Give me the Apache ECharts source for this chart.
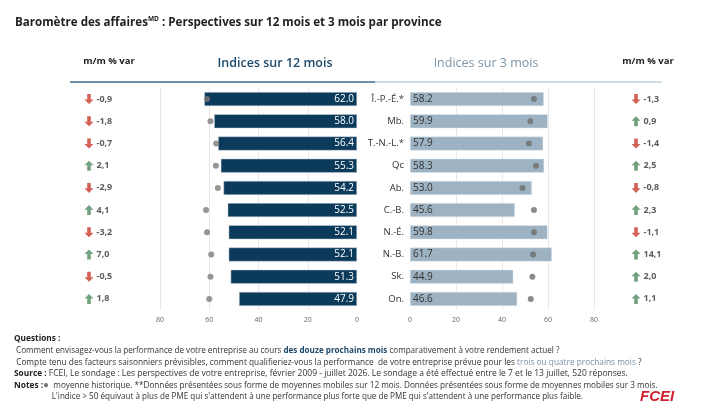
<!DOCTYPE html>
<html>
<head>
<meta charset="utf-8">
<script src="https://cdn.jsdelivr.net/npm/echarts@6/dist/echarts.min.js"></script>
<style>
  html, body { margin: 0; padding: 0; background: #fff; }
  #chart { width: 715px; height: 407px; }
</style>
</head>
<body>
<div id="chart"></div>
<script>
// provinces, top to bottom
const provinces = ['Î.-P.-É.*', 'Mb.', 'T.-N.-L.*', 'Qc', 'Ab.', 'C.-B.', 'N.-É.', 'N.-B.', 'Sk.', 'On.'];
// indices 12 mois + moyenne historique
const index12 = [62.0, 58.0, 56.4, 55.3, 54.2, 52.5, 52.1, 52.1, 51.3, 47.9];
const hist12 = [60.9, 59.5, 57.2, 57.3, 56.5, 61.3, 60.9, 59.2, 59.5, 60.0];
// indices 3 mois + moyenne historique
const index3 = [58.2, 59.9, 57.9, 58.3, 53.0, 45.6, 59.8, 61.7, 44.9, 46.6];
const hist3 = [53.9, 52.3, 51.7, 54.8, 48.9, 53.9, 53.9, 53.5, 53.2, 52.5];
// m/m % var
const var12 = [-0.9, -1.8, -0.7, 2.1, -2.9, 4.1, -3.2, 7.0, -0.5, 1.8];
const var3 = [-1.3, 0.9, -1.4, 2.5, -0.8, 2.3, -1.1, 14.1, 2.0, 1.1];

const FONT = '"Open Sans", "Noto Sans", sans-serif';
const NAVY = '#0b3a5b';
const STEEL = '#9db2c2';
const RED = '#c83a2c';
const GREEN = '#4d8a5e';
const arrowDown = 'path://M3,0 L7,0 L7,6 L10,6 L5,11 L0,6 L3,6 Z';
const arrowUp = 'path://M5,0 L10,5 L7,5 L7,11 L3,11 L3,5 L0,5 Z';

function fmtVar(v) {
  return v.toFixed(1).replace('.', ',');
}

function varData(list) {
  return list.map(function (v, i) {
    return {
      value: [0, i],
      symbol: v < 0 ? arrowDown : arrowUp,
      itemStyle: { color: v < 0 ? RED : GREEN },
      label: { formatter: fmtVar(v) }
    };
  });
}

// petit style de texte pour les notes
function ts(size, color, bold) {
  return { fontFamily: FONT, fontSize: size, fontWeight: bold ? 'bold' : 'normal', fill: color, lineHeight: 11.6 };
}

const chart = echarts.init(document.getElementById('chart'));

const gridTop = 88, gridH = 222;

const catAxis = function (idx, show) {
  return {
    type: 'category', gridIndex: idx, data: provinces, inverse: true,
    axisLine: { show: false }, axisTick: { show: false },
    axisLabel: {
      show: show, color: '#333', fontFamily: FONT, fontSize: 9.5,
      margin: 6, align: 'right'
    }
  };
};

const valAxis = function (idx, inverse) {
  return {
    type: 'value', gridIndex: idx, min: 0, max: 80, interval: 20, inverse: inverse,
    axisLine: { show: false }, axisTick: { show: false },
    axisLabel: { color: '#666', fontFamily: FONT, fontSize: 7, margin: 6 },
    splitLine: {
      lineStyle: { color: '#e8e8e8', width: 1 },
      showMinLine: false
    }
  };
};

const hiddenAxis = function (idx) {
  return { type: 'value', gridIndex: idx, min: 0, max: 1, show: false };
};

const option = {
  backgroundColor: '#fff',
  animation: false,
  textStyle: { fontFamily: FONT },
  title: {
    left: 10, top: 11,
    text: '{a|Baromètre des affaires}{s|MD}{a| : Perspectives sur 12 mois et 3 mois par province}',
    textStyle: {
      rich: {
        a: { fontFamily: FONT, fontSize: 11.6, fontWeight: 'bold', color: '#222' },
        s: { fontFamily: FONT, fontSize: 6.5, fontWeight: 'bold', color: '#222', padding: [0, 0, 6, 0] }
      }
    }
  },
  grid: [
    { left: 89, width: 50, top: gridTop, height: gridH },
    { left: 160, width: 197, top: gridTop, height: gridH },
    { left: 410, width: 184, top: gridTop, height: gridH },
    { left: 636, width: 50, top: gridTop, height: gridH }
  ],
  xAxis: [hiddenAxis(0), valAxis(1, true), valAxis(2, false), hiddenAxis(3)],
  yAxis: [catAxis(0, false), catAxis(1, false), catAxis(2, true), catAxis(3, false)],
  series: [
    {
      type: 'scatter', xAxisIndex: 0, yAxisIndex: 0,
      data: varData(var12), symbolSize: [9, 10],
      label: { show: true, position: 'right', distance: 3, color: '#333', fontFamily: FONT, fontSize: 9, fontWeight: 'bold' }
    },
    {
      type: 'bar', xAxisIndex: 1, yAxisIndex: 1, data: index12, barWidth: 14,
      itemStyle: { color: NAVY, borderColor: '#c9d3dc', borderWidth: 0.5 },
      label: {
        show: true, position: 'insideRight', distance: 3, color: '#fff',
        fontFamily: FONT, fontSize: 10,
        formatter: function (p) { return p.value.toFixed(1); }
      }
    },
    {
      type: 'scatter', xAxisIndex: 1, yAxisIndex: 1, data: hist12, symbolSize: 6,
      itemStyle: { color: '#7a7a7a' }, z: 5
    },
    {
      type: 'bar', xAxisIndex: 2, yAxisIndex: 2, data: index3, barWidth: 14,
      itemStyle: { color: STEEL, borderColor: '#e3e9ee', borderWidth: 0.5 },
      label: {
        show: true, position: 'insideLeft', distance: 3, color: '#333',
        fontFamily: FONT, fontSize: 10,
        formatter: function (p) { return p.value.toFixed(1); }
      }
    },
    {
      type: 'scatter', xAxisIndex: 2, yAxisIndex: 2, data: hist3, symbolSize: 6,
      itemStyle: { color: '#6e6e6e' }, z: 5
    },
    {
      type: 'scatter', xAxisIndex: 3, yAxisIndex: 3,
      data: varData(var3), symbolSize: [9, 10],
      label: { show: true, position: 'right', distance: 3, color: '#333', fontFamily: FONT, fontSize: 9, fontWeight: 'bold' }
    }
  ],
  graphic: [
    // en-têtes de colonnes
    { type: 'text', x: 109, y: 61, style: { text: 'm/m % var', font: 'bold 9.5px ' + FONT, fill: '#222', align: 'center', verticalAlign: 'middle' } },
    { type: 'text', x: 648, y: 61, style: { text: 'm/m % var', font: 'bold 9.5px ' + FONT, fill: '#222', align: 'center', verticalAlign: 'middle' } },
    { type: 'text', x: 275, y: 63, style: { text: 'Indices sur 12 mois', font: '600 12.5px ' + FONT, fill: '#1d4a6b', align: 'center', verticalAlign: 'middle' } },
    { type: 'text', x: 486, y: 63, style: { text: 'Indices sur 3 mois', font: '12.5px ' + FONT, fill: '#7d95a7', align: 'center', verticalAlign: 'middle' } },
    { type: 'line', shape: { x1: 70, y1: 82, x2: 375, y2: 82 }, style: { stroke: '#3f6a88', lineWidth: 1.5 } },
    { type: 'line', shape: { x1: 375, y1: 82, x2: 662, y2: 82 }, style: { stroke: '#c3d0da', lineWidth: 1.5 } },
    // notes
    {
      type: 'text', left: 14, top: 335,
      style: {
        text: [
          '{b|Questions :}',
          '{t2| Comment envisagez-vous la performance de votre entreprise au cours }{n|des douze prochains mois}{t2| comparativement à votre rendement actuel ?}',
          '{t3| Compte tenu des facteurs saisonniers prévisibles, comment qualifieriez-vous la performance  de votre entreprise prévue pour les }{g|trois ou quatre prochains mois}{t3| ?}',
          '{b|Source :}{t4| FCEI, Le sondage : Les perspectives de votre entreprise, février 2009 - juillet 2026. Le sondage a été effectué entre le 7 et le 13 juillet, 520 réponses.}',
          '{b|Notes :}{d|●}{t5|  moyenne historique. **Données présentées sous forme de moyennes mobiles sur 12 mois. Données présentées sous forme de moyennes mobiles sur 3 mois.}',
          '{t6|                  L\'indice > 50 équivaut à plus de PME qui s\'attendent à une performance plus forte que de PME qui s\'attendent à une performance plus faible.}'
        ].join('\n'),
        rich: {
          b: ts(8.3, '#222', true),
          t2: ts(8.1, '#333'),
          t3: ts(8.3, '#333'),
          t4: ts(8.5, '#333'),
          t5: ts(8.2, '#333'),
          t6: ts(8.1, '#333'),
          n: ts(8.1, '#1d4a6b', true),
          g: ts(8.3, '#7890a4'),
          d: ts(10, '#777')
        }
      }
    },
    { type: 'text', left: 640, top: 389, style: { text: 'FCEI', font: 'italic bold 15px "Liberation Sans", sans-serif', fill: '#d11f2f' } }
  ]
};

chart.setOption(option);
window.addEventListener('resize', function () {
  chart.resize();
});
</script>
</body>
</html>
